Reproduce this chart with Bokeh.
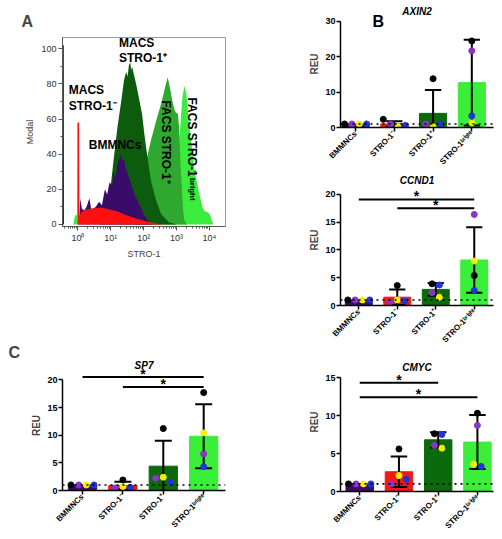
import math
from bokeh.plotting import figure
from bokeh.models import Range1d, FixedTicker, Span
from bokeh.layouts import column, row
from bokeh.embed import file_html
from bokeh.resources import INLINE

FONT = "Liberation Sans"

# ---------------- Panel A: flow cytometry histogram overlay ----------------
decade_ticks = [0, 1, 2, 3, 4]
decade_labels = ["10⁰", "10¹", "10²", "10³", "10⁴"]
modal_ticks = [0, 20, 40, 60, 80, 100]

bmmnc_x = [-0.47, -0.43, -0.425, 0.0, 0.05, 0.07, 0.12, 0.19, 0.26, 0.35, 0.40, 0.45, 0.54,
           0.64, 0.73, 0.82, 0.89, 0.96, 1.04, 1.08, 1.15, 1.22, 1.31,
           1.34, 1.39, 1.44, 1.48, 1.60, 1.74, 1.91, 2.02, 2.14, 2.26]
bmmnc_y = [102, 102, 0, 0, 6, 15, 9, 8, 10, 15, 9, 9, 10,
           13, 11, 20, 17, 24, 22, 30, 27, 36, 40,
           36, 38, 33, 31, 24, 16.5, 10, 5, 2, 0]

macs_neg_x = [-0.02, -0.015, 0.035, 0.045, 0.06, 0.09, 0.26, 0.49, 0.73, 0.96, 1.2, 1.44,
              1.67, 1.91, 2.14, 2.38, 2.61]
macs_neg_y = [0, 58, 58, 4, 5, 7, 8.5, 9.3, 9.5, 8.6, 7.4, 5.5, 4, 2.7, 1.5, 0.5, 0]

macs_pos_x = [0.65, 0.81, 0.96, 1.08, 1.2, 1.32, 1.40, 1.44, 1.47, 1.51, 1.55, 1.59, 1.62,
              1.65, 1.71, 1.79, 1.87, 1.95, 2.02, 2.10, 2.22, 2.38, 2.53, 2.77, 3.0]
macs_pos_y = [0, 6, 15.6, 36, 55, 70.6, 82, 85, 86.7, 84, 90.5, 92.4, 88,
              89.6, 84.8, 78.2, 70.6, 63, 51.6, 40.2, 25, 13.7, 6, 1.3, 0]

facs_pos_x = [1.67, 1.79, 1.91, 1.98, 2.06, 2.22, 2.38, 2.53, 2.65, 2.73, 2.81, 2.89, 2.96,
              3.04, 3.08, 3.12, 3.2, 3.24, 3.32]
facs_pos_y = [0, 3, 8, 19, 34.5, 47.8, 59, 68.7, 78, 83.8, 77, 68.7, 64, 63, 55, 34.5, 8, 2.3, 0]

facs_bright_x = [-0.14, -0.094, -0.035, -0.012, 2.14, 2.49, 2.73, 2.89, 3.04, 3.12, 3.18, 3.24,
                 3.30, 3.36, 3.44, 3.55, 3.67, 3.79, 3.86, 3.95, 4.02, 4.07, 4.12]
facs_bright_y = [0, 5, 5.5, 0, 0, 3, 8, 20, 36.4, 57, 72.5, 79,
                 74.4, 61, 47.8, 30.7, 19.4, 9.8, 7.5, 7, 5.5, 2.5, 0]

hist_colors = {"bright": "#3cec3c", "facs": "#2fa82f", "macs_pos": "#0d5c0d",
               "bmmnc": "#380c68", "macs_neg": "#ff1010"}

# population labels: text, x (log10 STRO-1), y (% modal)
pop_text = ["MACS", "STRO-1⁻", "BMMNCs", "MACS", "STRO-1⁺"]
pop_x = [-0.28, -0.28, 0.33, 1.25, 1.25]
pop_y = [76.3, 67.2, 45, 103, 94.5]
vert_text = ["FACS STRO-1⁺", "FACS STRO-1"]
vert_x = [2.68, 3.46]
vert_y = [70.6, 72.3]

# ---------------- Panels B/C: qPCR bar charts ----------------
categories = ["BMMNCs", "STRO-1⁻", "STRO-1⁺", "STRO-1ᵇʳⁱᵍʰᵗ"]
bar_colors = ["#3d0c6b", "#ee1a1a", "#0b6a0b", "#3aee3a"]
donor_colors = ["#000000", "#8a35c8", "#f2f200", "#1f35d8"]

axin2_mean = [1.0, 1.0, 4.0, 12.7]
axin2_sd = [0.0, 0.75, 6.6, 12.1]
axin2_black = [1.0, 2.3, 13.8, 24.5]
axin2_purple = [1.0, 0.9, 1.0, 21.7]
axin2_yellow = [1.0, 0.2, 0.2, 1.3]
axin2_blue = [1.0, 0.6, 1.0, 3.3]
axin2_ticks = [0, 10, 20, 30]
axin2_sig = []

ccnd1_mean = [1.0, 1.5, 2.9, 8.2]
ccnd1_sd = [0.0, 1.4, 1.15, 5.9]
ccnd1_black = [1.0, 3.6, 3.9, 5.4]
ccnd1_purple = [1.0, 0.6, 2.3, 16.4]
ccnd1_yellow = [1.0, 1.0, 1.5, 8.0]
ccnd1_blue = [1.0, 0.8, 3.7, 2.7]
ccnd1_ticks = [0, 5, 10, 15, 20]
ccnd1_sig = [(0, 3, 19.1), (1, 3, 17.5)]

sp7_mean = [1.0, 0.9, 4.4, 9.8]
sp7_sd = [0.0, 0.7, 4.6, 5.8]
sp7_black = [1.0, 1.9, 11.2, 17.7]
sp7_purple = [1.0, 0.45, 2.2, 6.6]
sp7_yellow = [1.0, 0.7, 2.4, 10.4]
sp7_blue = [1.0, 0.55, 1.5, 4.3]
sp7_ticks = [0, 5, 10, 15, 20]
sp7_sig = [(0, 3, 20.5), (1, 3, 18.7)]

cmyc_mean = [1.0, 2.6, 6.8, 6.5]
cmyc_sd = [0.0, 2.0, 1.0, 3.55]
cmyc_black = [1.0, 5.6, 7.6, 10.3]
cmyc_purple = [1.0, 1.0, 6.05, 8.7]
cmyc_yellow = [1.0, 2.1, 5.7, 3.6]
cmyc_blue = [1.0, 1.6, 7.5, 3.3]
cmyc_ticks = [0, 5, 10, 15]
cmyc_sig = [(0, 2, 14.3), (0, 3, 12.4)]

reu_reference = 1.0

LEFT_W = 262
RIGHT_W = 238


def style_axes(p, size="9px", bold=True, color="black", width=1.5, lab_so=2, tick_so=1):
    for ax in (p.xaxis[0], p.yaxis[0]):
        ax.axis_line_color = color
        ax.axis_line_width = width
        ax.major_tick_line_color = color
        ax.major_tick_line_width = width
        ax.major_tick_in = 0
        ax.major_tick_out = 4
        ax.minor_tick_line_color = None
        ax.major_label_text_font = FONT
        ax.major_label_text_font_size = size
        ax.major_label_text_font_style = "bold" if bold else "normal"
        ax.major_label_text_color = "black" if bold else "#333333"
        ax.axis_label_text_font = FONT
        ax.axis_label_text_font_style = "bold" if bold else "normal"
        ax.axis_label_text_font_size = "10px" if bold else "9px"
        ax.axis_label_standoff = lab_so
        ax.major_label_standoff = tick_so


def letter_title(p, letter, offset, standoff):
    p.title.text = letter
    p.title.align = "left"
    p.title.offset = offset
    p.title.standoff = standoff
    p.title.text_font = FONT
    p.title.text_font_size = "16px"
    p.title.text_font_style = "bold"


# ---- Panel A figure: fixed canvas, borders chosen so the frame is 211 x 189
A_LEFT, A_TOP, A_BOTTOM = 49, 37, 36
A_H = A_TOP + 189 + A_BOTTOM
pA = figure(width=LEFT_W, height=A_H, output_backend="svg", toolbar_location=None,
            x_range=Range1d(-0.47, 4.49), y_range=Range1d(-1.14, 106.4),
            min_border_left=A_LEFT, min_border_right=LEFT_W - A_LEFT - 211,
            min_border_top=A_TOP, min_border_bottom=A_BOTTOM,
            outline_line_color="#9a9a9a", background_fill_color="white", border_fill_color="white")
pA.grid.visible = False
pA.varea(x=facs_bright_x, y1=0, y2=facs_bright_y, fill_color=hist_colors["bright"])
pA.varea(x=facs_pos_x, y1=0, y2=facs_pos_y, fill_color=hist_colors["facs"])
pA.varea(x=macs_pos_x, y1=0, y2=macs_pos_y, fill_color=hist_colors["macs_pos"])
pA.varea(x=bmmnc_x, y1=0, y2=bmmnc_y, fill_color=hist_colors["bmmnc"])
pA.varea(x=macs_neg_x, y1=0, y2=macs_neg_y, fill_color=hist_colors["macs_neg"])
style_axes(pA, bold=False, color="#555555", width=1, lab_so=3, tick_so=2)
minor_x = [math.log10(k * 10 ** n) for n in range(-1, 4) for k in range(2, 10)]
minor_x = [m for m in minor_x if m > -0.47]
pA.xaxis.ticker = FixedTicker(ticks=decade_ticks, minor_ticks=minor_x)
pA.xaxis.major_label_overrides = {t: l for t, l in zip(decade_ticks, decade_labels)}
pA.yaxis.ticker = FixedTicker(ticks=modal_ticks, minor_ticks=[10, 30, 50, 70, 90])
for ax in (pA.xaxis[0], pA.yaxis[0]):
    ax.minor_tick_line_color = "#555555"
    ax.minor_tick_out = 2
    ax.minor_tick_in = 0
pA.xaxis.axis_label = "STRO-1"
pA.yaxis.axis_label = "Modal"
letter_title(pA, "A", -41, 16)

# population labels as text glyphs
pA.text(x=pop_x, y=pop_y, text=pop_text, text_align="left", text_baseline="middle",
        text_font_size="12px", text_font_style="bold", text_font={"value": FONT})
pA.text(x=vert_x, y=vert_y, text=vert_text, angle=-math.pi / 2, text_align="left",
        text_baseline="middle", text_font_size="12px", text_font_style="bold",
        text_font={"value": FONT})
pA.text(x=[3.50], y=[26.5], text=["bright"], angle=-math.pi / 2, text_align="left",
        text_baseline="middle", text_font_size="8px", text_font_style="bold",
        text_font={"value": FONT})


def spread(vals, ymax):
    thr = 0.05 * ymax
    order = sorted(range(len(vals)), key=lambda k: vals[k])
    groups = []
    for k in order:
        if groups and vals[k] - vals[groups[-1][-1]] < thr:
            groups[-1].append(k)
        else:
            groups.append([k])
    offs = [0.0] * len(vals)
    for g in groups:
        gs = sorted(g)
        for idx, k in enumerate(gs):
            offs[k] = (idx - (len(gs) - 1) / 2) * 0.19
    return offs


def bar_panel(gene, gene_y, mean, sd, donors, sig, ticks, y_end, x_range, size, borders):
    w, h = size
    bl, br, bt, bb = borders
    p = figure(width=w, height=h, output_backend="svg", toolbar_location=None,
               x_range=Range1d(*x_range), y_range=Range1d(0, y_end),
               min_border_left=bl, min_border_right=br, min_border_top=bt, min_border_bottom=bb,
               outline_line_color=None, background_fill_color="white", border_fill_color="white")
    p.grid.visible = False
    pos = list(range(len(categories)))
    p.vbar(x=pos, top=mean, width=0.7, fill_color=bar_colors, line_color=bar_colors)
    lo = [m - s for m, s in zip(mean, sd)]
    hi = [m + s for m, s in zip(mean, sd)]
    idx = [i for i in pos if sd[i] > 0]
    cap = 0.21
    p.segment(x0=[pos[i] for i in idx], x1=[pos[i] for i in idx],
              y0=[lo[i] for i in idx], y1=[hi[i] for i in idx], line_color="black", line_width=2)
    for ends in (hi, lo):
        p.segment(x0=[pos[i] - cap for i in idx], x1=[pos[i] + cap for i in idx],
                  y0=[ends[i] for i in idx], y1=[ends[i] for i in idx],
                  line_color="black", line_width=2)
    for i in pos:
        vals = [d[i] for d in donors]
        offs = spread(vals, ticks[-1])
        p.scatter(x=[i + o for o in offs], y=vals, size=6, fill_color=donor_colors,
                  line_color=donor_colors, marker="circle")
    p.add_layout(Span(location=reu_reference, dimension="width", line_color="black",
                      line_width=1.6, line_dash="dotted"))
    if sig:
        p.segment(x0=[s[0] for s in sig], x1=[s[1] for s in sig], y0=[s[2] for s in sig],
                  y1=[s[2] for s in sig], line_color="black", line_width=2)
        p.text(x=[(s[0] + s[1]) / 2 for s in sig], y=[s[2] for s in sig], text=["*"] * len(sig),
               text_align="center", text_baseline="middle", text_font_size="14px",
               text_font_style="bold", text_font={"value": FONT}, y_offset=-3)
    p.text(x=[(x_range[0] + x_range[1]) / 2], y=[gene_y], text=[gene], text_align="center",
           text_baseline="middle", text_font_size="10px", text_font_style="bold italic",
           text_font={"value": FONT})
    style_axes(p)
    p.xaxis.ticker = FixedTicker(ticks=pos)
    p.xaxis.major_label_overrides = {i: c for i, c in zip(pos, categories)}
    p.xaxis.major_label_orientation = math.pi / 4
    p.xaxis.major_label_text_font_size = "8px"
    p.yaxis.ticker = FixedTicker(ticks=ticks)
    p.yaxis.bounds = (ticks[0], ticks[-1])
    p.yaxis.axis_label = "REU"
    return p


sp_h = 537 - A_H
sp_top = 360 - A_H
pSP7 = bar_panel("SP7", 22.6, sp7_mean, sp7_sd, [sp7_black, sp7_purple, sp7_yellow, sp7_blue],
                 sp7_sig, sp7_ticks, 23.5, (-0.495, 3.54), (LEFT_W, sp_h),
                 (62, LEFT_W - 62 - 163, sp_top, sp_h - sp_top - 130))
letter_title(pSP7, "C", -54, 0)

ax_left = 340 - LEFT_W
pAX = bar_panel("AXIN2", 32.7, axin2_mean, axin2_sd,
                [axin2_black, axin2_purple, axin2_yellow, axin2_blue],
                axin2_sig, axin2_ticks, 35.94, (-0.39, 3.56), (RIGHT_W, 174),
                (ax_left, RIGHT_W - ax_left - 153, 0, 47))
pAX.text(x=[0.437], y=[30], text=["B"], text_align="left", text_baseline="alphabetic",
         text_font_size="16px", text_font_style="bold", text_font={"value": FONT})

cc_left = 337 - LEFT_W
pCC = bar_panel("CCND1", 22.5, ccnd1_mean, ccnd1_sd,
                [ccnd1_black, ccnd1_purple, ccnd1_yellow, ccnd1_blue],
                ccnd1_sig, ccnd1_ticks, 23.6, (-0.475, 3.5), (RIGHT_W, 178),
                (cc_left, RIGHT_W - cc_left - 159, 0, 47))

pCM = bar_panel("CMYC", 16.3, cmyc_mean, cmyc_sd,
                [cmyc_black, cmyc_purple, cmyc_yellow, cmyc_blue],
                cmyc_sig, cmyc_ticks, 18.29, (-0.49, 3.41), (RIGHT_W, 185),
                (cc_left, RIGHT_W - cc_left - 160, 0, 46))

layout = row(column(pA, pSP7), column(pAX, pCC, pCM))
open("out.html", "w").write(file_html(layout, INLINE))
